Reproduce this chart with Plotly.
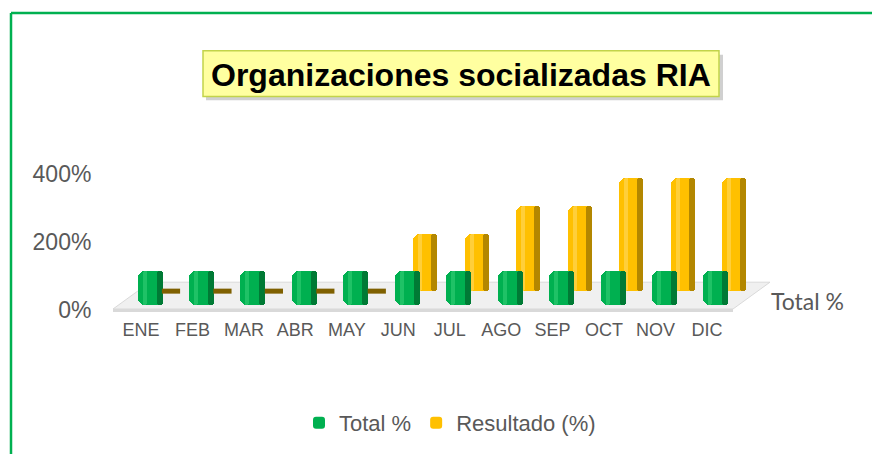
import plotly.graph_objects as go

# ---------------- data ----------------
months = ["ENE", "FEB", "MAR", "ABR", "MAY", "JUN", "JUL", "AGO", "SEP", "OCT", "NOV", "DIC"]
total_pct = [100, 100, 100, 100, 100, 100, 100, 100, 100, 100, 100, 100]
resultado_pct = [0, 0, 0, 0, 0, 167, 167, 250, 250, 333, 333, 333]
y_ticks = [0, 200, 400]
y_tick_labels = ["0%", "200%", "400%"]

# ---------------- layout helpers (screen pixel -> paper) ----------------
OFF = 8                    # page body margin
W, H = 880 - OFF, 454 - OFF
L, R, T, B = 115, 790, 157, 311   # plot area in screen pixels


def fx(px):
    return (px - L) / (R - L)


def fy(py):
    return (B - py) / (B - T)


CAT_PX = 51.45
GREEN_BASE = (B - 306) / 0.3425
YELLOW_BASE = (B - 292) / 0.3425

g_w = 25 / CAT_PX
g_off = (9 - 12.5) / CAT_PX
y_w = 24 / CAT_PX
y_off = (27 - 12) / CAT_PX
side_w = 6 / CAT_PX
hl_w = 4 / CAT_PX

GREEN, GREEN_D, GREEN_L = "#00B050", "#007A35", "#1FC266"
YEL, YEL_D, YEL_L = "#FFC000", "#B38700", "#FFCF3A"
TXT = "#595959"

fig = go.Figure()

# back row (Resultado)
fig.add_trace(go.Bar(x=months, y=resultado_pct, base=YELLOW_BASE, name="Resultado (%)",
                     width=y_w, offset=y_off, marker=dict(color=YEL, line=dict(width=0)),
                     legendrank=2))
fig.add_trace(go.Bar(x=months, y=resultado_pct, base=YELLOW_BASE, showlegend=False,
                     width=side_w, offset=y_off + y_w - side_w,
                     marker=dict(color=YEL_D, line=dict(width=0)), hoverinfo="skip"))
fig.add_trace(go.Bar(x=months, y=resultado_pct, base=YELLOW_BASE, showlegend=False,
                     width=hl_w, offset=y_off + 5 / CAT_PX,
                     marker=dict(color=YEL_L, line=dict(width=0)), hoverinfo="skip"))
zero_m = [m for m, v in zip(months, resultado_pct) if v == 0]
zero_v = [YELLOW_BASE + v for v in resultado_pct if v == 0]
fig.add_trace(go.Scatter(x=zero_m, y=zero_v, xaxis="x2", mode="markers", showlegend=False,
                         marker=dict(symbol="line-ew", size=13, color="#7F6000",
                                     line=dict(width=5, color="#7F6000")),
                         hoverinfo="skip"))
# front row (Total %)
fig.add_trace(go.Bar(x=months, y=total_pct, base=GREEN_BASE, name="Total %",
                     width=g_w, offset=g_off, marker=dict(color=GREEN, line=dict(width=0)),
                     legendrank=1))
fig.add_trace(go.Bar(x=months, y=total_pct, base=GREEN_BASE, showlegend=False,
                     width=side_w, offset=g_off + g_w - side_w,
                     marker=dict(color=GREEN_D, line=dict(width=0)), hoverinfo="skip"))
fig.add_trace(go.Bar(x=months, y=total_pct, base=GREEN_BASE, showlegend=False,
                     width=hl_w, offset=g_off + 5 / CAT_PX,
                     marker=dict(color=GREEN_L, line=dict(width=0)), hoverinfo="skip"))

x0 = (L - 141) / CAT_PX
x1 = (R - 141) / CAT_PX
slab_c = 30 / CAT_PX

shapes = []
shapes.append(dict(type="line", xref="paper", yref="paper", x0=fx(11), x1=fx(11), y0=fy(12), y1=fy(470),
                   line=dict(color="#00B050", width=2.5), layer="below"))
shapes.append(dict(type="line", xref="paper", yref="paper", x0=fx(11), x1=fx(895), y0=fy(12), y1=fy(12),
                   line=dict(color="#00B050", width=2.5), layer="below"))
floor = [(113, 310), (733, 310), (770, 283), (150, 283)]
path = "M " + " L ".join(f"{fx(a)},{fy(b)}" for a, b in floor) + " Z"
shapes.append(dict(type="path", xref="paper", yref="paper", path=path,
                   fillcolor="#F0F0F0", line=dict(color="#D9D9D9", width=1), layer="below"))
edge = [(113, 310), (733, 310), (733, 313), (113, 313)]
path2 = "M " + " L ".join(f"{fx(a)},{fy(b)}" for a, b in edge) + " Z"
shapes.append(dict(type="path", xref="paper", yref="paper", path=path2,
                   fillcolor="#D9D9D9", line=dict(width=0), layer="below"))
shapes.append(dict(type="rect", xref="paper", yref="paper", x0=fx(206), x1=fx(723), y0=fy(54), y1=fy(100),
                   fillcolor="rgba(120,120,120,0.35)", line=dict(width=0), layer="below"))
shapes.append(dict(type="rect", xref="paper", yref="paper", x0=fx(203), x1=fx(719), y0=fy(50), y1=fy(96),
                   fillcolor="#FFFFA0", line=dict(color="#C2D34A", width=1.5), layer="below"))

annotations = [
    dict(text="<b>Organizaciones socializadas RIA</b>", xref="paper", yref="paper",
         x=fx(461), y=fy(74), xanchor="center", yanchor="middle", showarrow=False,
         font=dict(family="Liberation Sans, Arial", size=32, color="#000000")),
    dict(text="Total %", xref="paper", yref="paper", x=fx(769), y=fy(302),
         xanchor="left", yanchor="middle", showarrow=False,
         font=dict(family="Lato, sans-serif", size=23, color=TXT)),
]

fig.update_layout(
    width=W, height=H, autosize=False,
    margin=dict(l=L - OFF, r=W - (R - OFF), t=T - OFF, b=H - (B - OFF), pad=0),
    paper_bgcolor="white", plot_bgcolor="rgba(0,0,0,0)",
    barmode="overlay", bargap=0, barcornerradius=7,
    font=dict(family="Liberation Sans, Arial", color=TXT),
    shapes=shapes, annotations=annotations,
    legend=dict(orientation="h", x=fx(450), xanchor="center", y=fy(423), yanchor="middle",
                font=dict(size=22, color=TXT), bgcolor="rgba(0,0,0,0)", itemwidth=30),
    xaxis=dict(type="category", range=[x0, x1], showgrid=False, zeroline=False, showline=False,
               ticks="outside", ticklen=3, tickcolor="rgba(0,0,0,0)",
               tickfont=dict(size=18, color=TXT)),
    xaxis2=dict(type="category", overlaying="x", range=[x0 - slab_c, x1 - slab_c], visible=False,
                categoryorder="array", categoryarray=months),
    yaxis=dict(range=[0, 450], tickmode="array", tickvals=y_ticks, ticktext=y_tick_labels,
               showgrid=False, zeroline=False,
               showline=False, ticks="outside", ticklen=18, tickcolor="rgba(0,0,0,0)",
               tickfont=dict(size=23, color=TXT)),
    showlegend=True,
)

fig.write_html("out.html")
